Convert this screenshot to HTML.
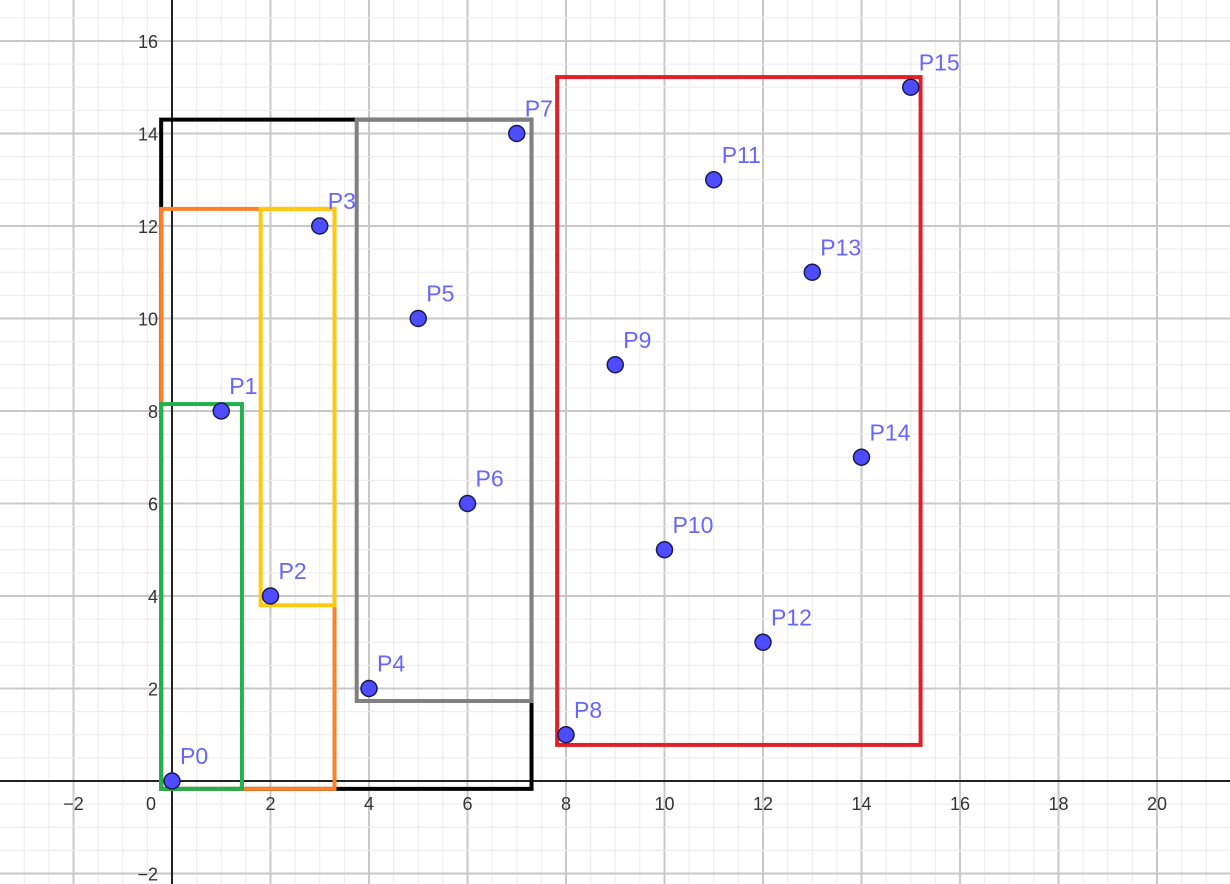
<!DOCTYPE html>
<html><head><meta charset="utf-8"><style>html,body{margin:0;padding:0;background:#fff}svg{display:block}</style></head>
<body>
<svg id="chart" width="1230" height="884" xmlns="http://www.w3.org/2000/svg" font-family="Liberation Sans, sans-serif"></svg>
<script>
const pointNames = ["P0","P1","P2","P3","P4","P5","P6","P7","P8","P9","P10","P11","P12","P13","P14","P15"];
const pointX = [0,1,2,3,4,5,6,7,8,9,10,11,12,13,14,15];
const pointY = [0,8,4,12,2,10,6,14,1,9,5,13,3,11,7,15];
const boxNames = ["black-box","orange-box","yellow-box","green-box","gray-box","red-box"];
const boxColors = ["#000000","#ff7f27","#ffc90e","#22b14c","#808080","#e3202a"];
const boxX0 = [-0.22,-0.22,1.8,-0.22,3.75,7.82];
const boxX1 = [7.3,3.3,3.3,1.42,7.3,15.2];
const boxY0 = [-0.17,-0.17,3.8,-0.17,1.73,0.78];
const boxY1 = [14.3,12.37,12.37,8.15,14.3,15.22];
const xTicks = [-2,0,2,4,6,8,10,12,14,16,18,20];
const yTicks = [-2,2,4,6,8,10,12,14,16];

const NS="http://www.w3.org/2000/svg";
const svg=document.getElementById('chart');
const sx=v=>172+v*49.25, sy=v=>781-v*46.25;
function mk(t,a,p){const e=document.createElementNS(NS,t);for(const k in a)e.setAttribute(k,a[k]);(p||svg).appendChild(e);return e;}
const grid=mk('g',{});


for(let v=-4;v<=25;v+=0.5){const x=sx(v);if(x<0||x>1230)continue;const major=Math.abs(v%2)<1e-9;
 mk('line',{x1:x,x2:x,y1:0,y2:884,stroke:major?'#c8c8c8':'#ececec','stroke-width':major?2:1},grid);}
for(let v=-4;v<=20;v+=0.5){const y=sy(v);if(y<0||y>884)continue;const major=Math.abs(v%2)<1e-9;
 mk('line',{x1:0,x2:1230,y1:y,y2:y,stroke:major?'#c8c8c8':'#ececec','stroke-width':major?2:1},grid);}
const ax=mk('line',{x1:0,x2:1230,y1:sy(0),y2:sy(0),stroke:'#222','stroke-width':2});

const ay=mk('line',{x1:sx(0),x2:sx(0),y1:0,y2:884,stroke:'#222','stroke-width':2});

xTicks.forEach(v=>{const t=mk('text',{x:v===0?sx(0)-21:sx(v),y:sy(0)+29,'text-anchor':'middle','font-size':18,fill:'#333'});
 t.textContent=v<0?'\u2212'+(-v):v;});
yTicks.forEach(v=>{const t=mk('text',{x:sx(0)-14,y:sy(v)+7,'text-anchor':'end','font-size':18,fill:'#333'});
 t.textContent=v<0?'\u2212'+(-v):v;});
boxNames.forEach((n,i)=>{const r=mk('rect',{x:sx(boxX0[i]),y:sy(boxY1[i]),width:sx(boxX1[i])-sx(boxX0[i]),height:sy(boxY0[i])-sy(boxY1[i]),fill:'none',stroke:boxColors[i],'stroke-width':4});
 });
pointNames.forEach((n,i)=>{const c=mk('circle',{cx:sx(pointX[i]),cy:sy(pointY[i]),r:8,fill:'#4d4dff',stroke:'#1a1a4d','stroke-width':1.5});
 
 const t=mk('text',{x:sx(pointX[i])+8,y:sy(pointY[i])-17,'font-size':23,fill:'#6666ff'});t.textContent=n;
 });
</script>
</body></html>
